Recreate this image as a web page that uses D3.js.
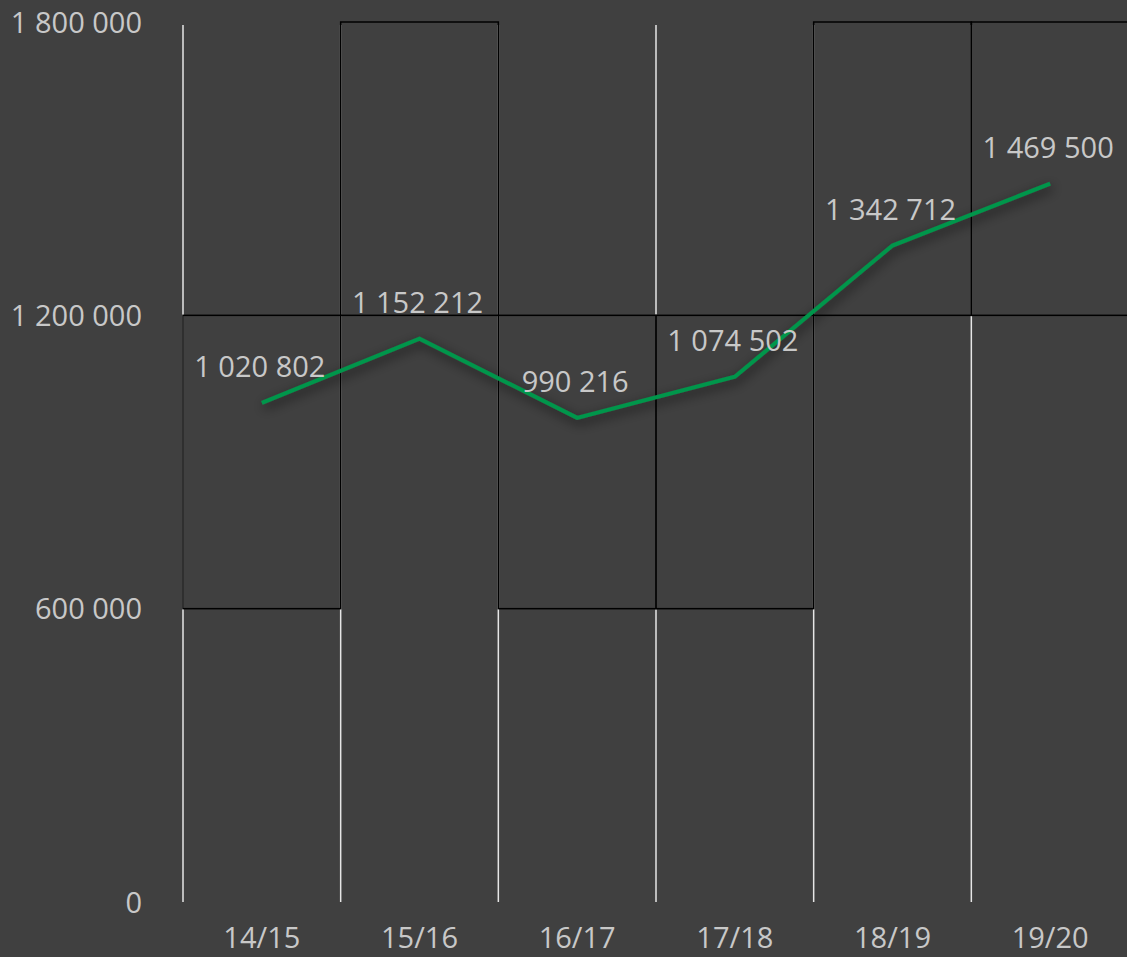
<!DOCTYPE html>
<html>
<head>
<meta charset="utf-8">
<script src="https://cdn.jsdelivr.net/npm/d3@7"></script>
<style>
  html, body { margin: 0; padding: 0; background: #404040; }
  svg { display: block; }
  .lbl { font-family: "Open Sans", sans-serif; fill: #c8c8c8; }
</style>
</head>
<body>
<script>
// seasons on the x axis
var seasons = ["14/15", "15/16", "16/17", "17/18", "18/19", "19/20"];
// yearly totals
var totals = [1020802, 1152212, 990216, 1074502, 1342712, 1469500];
// y ticks
var yTicks = [0, 600000, 1200000, 1800000];
// lower edge of the dark grid box drawn in each column
var boxBase = [600000, 1200000, 600000, 600000, 1200000, 1200000];
var boxSpan = 600000;

var W = 1127, H = 957;
var margin = {left: 183, right: -2, top: 22, bottom: 55};

var svg = d3.select("body").append("svg")
  .attr("width", W)
  .attr("height", H);

var x = d3.scaleBand()
  .domain(seasons)
  .range([margin.left, W - margin.right])
  .padding(0);

var y = d3.scaleLinear()
  .domain([0, 1800000])
  .range([H - margin.bottom, margin.top]);

var loc = d3.formatLocale({decimal: ",", thousands: " ", grouping: [3], currency: ["", ""]});
var fmt = loc.format(",d");

// shadow under the line
var defs = svg.append("defs");
defs.append("filter")
  .attr("id", "shadow")
  .attr("x", "-20%").attr("y", "-20%")
  .attr("width", "140%").attr("height", "140%")
  .append("feDropShadow")
  .attr("dx", 2).attr("dy", 4)
  .attr("stdDeviation", 6)
  .attr("flood-color", "#000")
  .attr("flood-opacity", 0.7);

// white vertical grid lines at column edges
var edges = seasons.map(function(d){ return x(d); });
svg.append("g")
  .selectAll("line")
  .data(edges)
  .enter().append("line")
  .attr("x1", function(d){ return d; })
  .attr("x2", function(d){ return d; })
  .attr("y1", y(1800000) + 3)
  .attr("y2", y(0))
  .attr("stroke", "#e6e6e6")
  .attr("stroke-width", 1.5);

// dark boxes
svg.append("g")
  .selectAll("rect")
  .data(seasons)
  .enter().append("rect")
  .attr("x", function(d){ return x(d); })
  .attr("width", x.bandwidth())
  .attr("y", function(d, i){ return y(boxBase[i] + boxSpan); })
  .attr("height", function(d, i){ return y(boxBase[i]) - y(boxBase[i] + boxSpan); })
  .attr("fill", "none")
  .attr("stroke", "#000")
  .attr("stroke-width", 1.5);

// y axis
var yAxis = svg.append("g")
  .attr("transform", "translate(" + margin.left + ",0)")
  .call(d3.axisLeft(y).tickValues(yTicks).tickSize(0).tickPadding(41).tickFormat(fmt));
yAxis.select(".domain").remove();
yAxis.selectAll("text")
  .attr("class", "lbl")
  .attr("font-size", 29)
  .attr("dy", "0.35em");

// x axis
var xAxis = svg.append("g")
  .attr("transform", "translate(0," + y(0) + ")")
  .call(d3.axisBottom(x).tickSize(0).tickPadding(25));
xAxis.select(".domain").remove();
xAxis.selectAll("text")
  .attr("class", "lbl")
  .attr("font-size", 29)
  .attr("dy", "0.71em");

// the line
var line = d3.line()
  .x(function(d, i){ return x(seasons[i]) + x.bandwidth() / 2; })
  .y(function(d){ return y(d); });

svg.append("path")
  .datum(totals)
  .attr("d", line)
  .attr("fill", "none")
  .attr("stroke", "#00964b")
  .attr("stroke-width", 4)
  .attr("filter", "url(#shadow)");

// value labels
svg.append("g")
  .selectAll("text")
  .data(totals)
  .enter().append("text")
  .attr("class", "lbl")
  .attr("font-size", 29)
  .attr("text-anchor", "middle")
  .attr("x", function(d, i){ return x(seasons[i]) + x.bandwidth() / 2 - 2; })
  .attr("y", function(d){ return y(d) - 26; })
  .text(function(d){ return fmt(d); });
</script>
</body>
</html>
